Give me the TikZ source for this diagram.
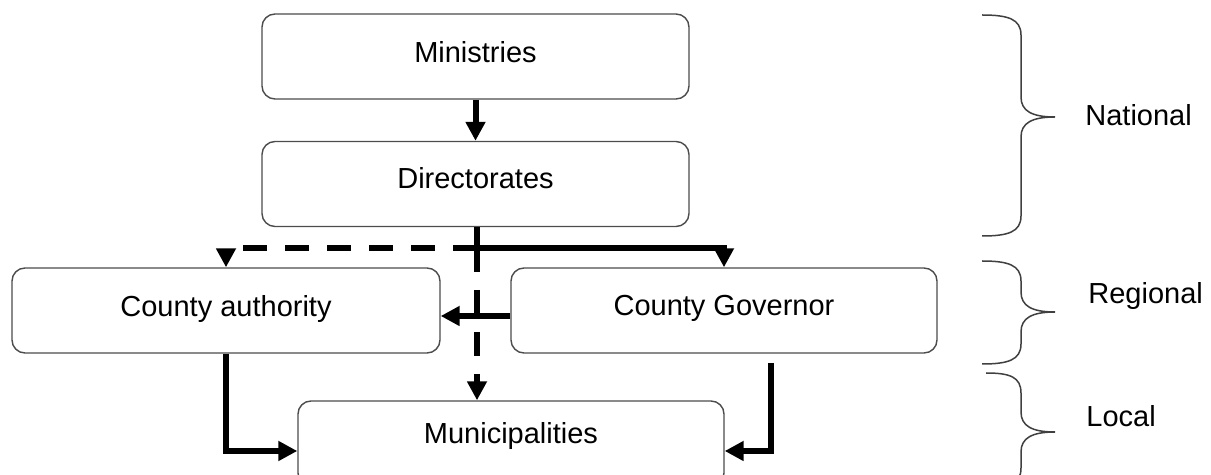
\documentclass[tikz,border=0pt]{standalone}
\usepackage{fontspec}
\setmainfont{Liberation Sans}
\usetikzlibrary{arrows.meta}
\begin{document}
\begin{tikzpicture}[x=0.5pt,y=-0.5pt,
 box/.style={draw=black!70, line width=0.7pt, rounded corners=6.5pt, minimum width=213.5pt, minimum height=42.5pt, inner sep=0pt, font=\fontsize{14.5}{17}\selectfont},
 flow/.style={line width=3pt, -{Triangle[length=9.5pt,width=9.5pt]}},
 dflow/.style={flow, dash pattern=on 12pt off 9pt},
 brace/.style={draw=black!75, line width=0.75pt},
 lvl/.style={font=\fontsize{14.5}{17}\selectfont, inner sep=0pt, anchor=west}]
\useasboundingbox (0,0) rectangle (1211,475);
\clip (0,0) rectangle (1211,475);
\node[box, text depth=5pt] (min) at (475.5,56.5) {Ministries};
\node[box, text depth=6pt] (dir) at (475.5,184) {Directorates};
\node[box, minimum width=214pt, text depth=5pt] (auth) at (226,310.5) {County authority};
\node[box, minimum width=213pt, text depth=5pt] (gov) at (724,310.5) {County Governor};
\node[box, minimum width=213pt, text depth=11pt] (muni) at (511,443.5) {Municipalities};
\coordinate (j) at (477,248);
\coordinate (m) at (0,451);
\coordinate (h) at (0,316);
\coordinate (g1) at (771,363);
\draw[flow] (min.south) -- (dir.north);
\draw[flow] (dir.south -| j) -- (j) -| (gov.north);
\draw[dflow] (j) -| (auth.north);
\draw[dflow] (j) -- (j |- muni.north);
\draw[flow] (gov.west |- h) -- (auth.east |- h);
\draw[flow] (auth.south) |- (muni.west |- m);
\draw[flow] (g1) |- (muni.east |- m);
\draw[brace] (982,15) .. controls (1008,15) and (1021,19) .. (1021,35) -- (1021,97) .. controls (1021,111) and (1032,117) .. (1055,117) .. controls (1032,117) and (1021,123) .. (1021,137) -- (1021,216) .. controls (1021,232) and (1008,236) .. (982,236);
\draw[brace] (982,261) .. controls (1008,261) and (1021,265) .. (1021,281) -- (1021,292) .. controls (1021,306) and (1032,312) .. (1055,312) .. controls (1032,312) and (1021,318) .. (1021,332) -- (1021,344) .. controls (1021,360) and (1008,364) .. (982,364);
\draw[brace] (986,373) .. controls (1010,373) and (1021,377) .. (1021,393) -- (1021,412) .. controls (1021,426) and (1032,432) .. (1055,432) .. controls (1032,432) and (1021,438) .. (1021,452) -- (1021,468) .. controls (1021,484) and (1010,488) .. (986,488);
\node[lvl] (nat) at (1085,115) {National};
\node[lvl] (reg) at (1088,296) {Regional};
\node[lvl] (loc) at (1086,416) {Local};
\end{tikzpicture}
\end{document}
